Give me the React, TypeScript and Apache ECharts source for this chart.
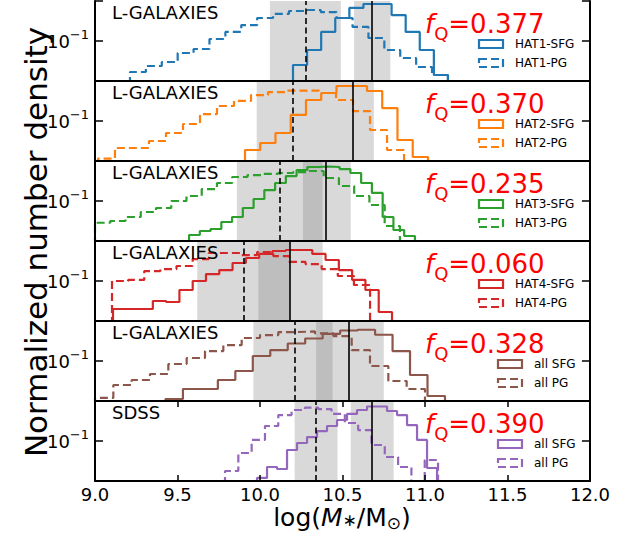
import React, { useEffect, useRef } from "react";
import * as echarts from "echarts";

// ---------- axis / tick data ----------
const X_MIN = 9.0;
const X_MAX = 12.0;
const X_INTERVAL = 0.5;
const X_TICK_LABELS = ["9.0", "9.5", "10.0", "10.5", "11.0", "11.5", "12.0"];
const Y_MIN = 0.0316228; // 10^-1.5
const Y_MAX = 0.316228; // 10^-0.5
const Y_TICK_VALUE = 0.1;
const Y_TICK_BASE = "10";
const Y_TICK_EXP = "\u22121";

// ---------- panel texts ----------
const PANEL_LABELS = ["L-GALAXIES", "L-GALAXIES", "L-GALAXIES", "L-GALAXIES", "L-GALAXIES", "SDSS"];
const F_Q = ["0.377", "0.370", "0.235", "0.060", "0.328", "0.390"];
const SFG_NAMES = ["HAT1-SFG", "HAT2-SFG", "HAT3-SFG", "HAT4-SFG", "all SFG", "all SFG"];
const PG_NAMES = ["HAT1-PG", "HAT2-PG", "HAT3-PG", "HAT4-PG", "all PG", "all PG"];
const COLORS = ["#1f77b4", "#ff7f0e", "#2ca02c", "#d62728", "#8c564b", "#9467bd"];

// ---------- histograms: [lo, hi] range of bins and normalized densities ----------
const HAT1_SFG_RANGE = [10.2, 11.139];
const HAT1_SFG = [0.0501, 0.0772, 0.13, 0.194, 0.259, 0.29, 0.29, 0.211, 0.13, 0.0772, 0.0376];
const HAT1_PG_RANGE = [9.212, 11.139];
const HAT1_PG = [0.041, 0.0487, 0.0546, 0.0708, 0.0794, 0.106, 0.13, 0.158, 0.194, 0.218, 0.237, 0.244, 0.23, 0.194, 0.15, 0.109, 0.0772, 0.0613, 0.0473, 0.0376];

const HAT2_SFG_RANGE = [9.909, 11.018];
const HAT2_SFG = [0.0434, 0.0531, 0.0708, 0.119, 0.183, 0.224, 0.274, 0.274, 0.237, 0.145, 0.0579, 0.0355];
const HAT2_PG_RANGE = [9.018, 10.873];
const HAT2_PG = [0.0338, 0.046, 0.046, 0.0562, 0.0708, 0.0917, 0.122, 0.154, 0.178, 0.211, 0.23, 0.24, 0.24, 0.224, 0.183, 0.133, 0.0772, 0.0434];

const HAT3_SFG_RANGE = [9.57, 10.939];
const HAT3_SFG = [0.0376, 0.0422, 0.0447, 0.0546, 0.0631, 0.0818, 0.106, 0.137, 0.168, 0.205, 0.244, 0.266, 0.27, 0.266, 0.251, 0.224, 0.168, 0.126, 0.0631, 0.0434, 0.0365];
const HAT3_PG_RANGE = [9.0, 10.848];
const HAT3_PG = [0.0535, 0.0562, 0.0631, 0.0729, 0.0818, 0.1, 0.1155, 0.141, 0.168, 0.1995, 0.211, 0.218, 0.224, 0.23, 0.237, 0.194, 0.154, 0.1155, 0.0891, 0.0487];

const HAT4_SFG_RANGE = [9.109, 10.8];
const HAT4_SFG = [0.0447, 0.0447, 0.0447, 0.0562, 0.0546, 0.0772, 0.1, 0.122, 0.137, 0.168, 0.194, 0.218, 0.237, 0.244, 0.244, 0.218, 0.183, 0.137, 0.103, 0.0772, 0.041];
const HAT4_PG_RANGE = [9.103, 10.667];
const HAT4_PG = [0.1, 0.103, 0.133, 0.141, 0.154, 0.188, 0.224, 0.224, 0.211, 0.23, 0.205, 0.173, 0.163, 0.141, 0.1155, 0.0891];

const ALL_SFG_RANGE = [9.427, 11.121];
const ALL_SFG = [0.0335, 0.0447, 0.0447, 0.0579, 0.075, 0.1155, 0.137, 0.1655, 0.191, 0.218, 0.2405, 0.246, 0.213, 0.133, 0.0668, 0.0365];
const ALL_PG_RANGE = [9.0, 11.0];
const ALL_PG = [0.0345, 0.0501, 0.0579, 0.0688, 0.0917, 0.109, 0.133, 0.158, 0.194, 0.211, 0.23, 0.234, 0.221, 0.205, 0.137, 0.0866, 0.0562, 0.0447];

const SDSS_SFG_RANGE = [9.982, 11.073];
const SDSS_SFG = [0.0345, 0.0473, 0.0447, 0.0772, 0.0944, 0.112, 0.133, 0.154, 0.183, 0.218, 0.244, 0.27, 0.27, 0.237, 0.211, 0.158, 0.103, 0.046];
const SDSS_PG_RANGE = [9.788, 11.079];
const SDSS_PG = [0.0422, 0.0708, 0.103, 0.154, 0.211, 0.244, 0.262, 0.251, 0.218, 0.168, 0.137, 0.0891, 0.0631, 0.0473, 0, 0.0579];

const SFG_RANGES = [HAT1_SFG_RANGE, HAT2_SFG_RANGE, HAT3_SFG_RANGE, HAT4_SFG_RANGE, ALL_SFG_RANGE, SDSS_SFG_RANGE];
const SFG_VALUES = [HAT1_SFG, HAT2_SFG, HAT3_SFG, HAT4_SFG, ALL_SFG, SDSS_SFG];
const PG_RANGES = [HAT1_PG_RANGE, HAT2_PG_RANGE, HAT3_PG_RANGE, HAT4_PG_RANGE, ALL_PG_RANGE, SDSS_PG_RANGE];
const PG_VALUES = [HAT1_PG, HAT2_PG, HAT3_PG, HAT4_PG, ALL_PG, SDSS_PG];

// ---------- medians (vertical lines) and percentile bands ----------
const PG_MEDIANS = [10.28, 10.2, 10.115, 9.9, 10.21, 10.34];
const SFG_MEDIANS = [10.68, 10.56, 10.4, 10.18, 10.54, 10.68];
const PG_BANDS = [[10.06, 10.49], [9.98, 10.43], [9.86, 10.38], [9.62, 10.18], [9.96, 10.44], [10.21, 10.47]];
const SFG_BANDS = [[10.57, 10.79], [10.43, 10.69], [10.26, 10.55], [9.99, 10.38], [10.34, 10.75], [10.55, 10.81]];

// ---------- layout ----------
const W = 631;
const H = 540;
const LEFT = 95;
const PLOT_W = 495;
const TOP0 = 1;
const PANEL_H = 80;
const FONT = "DejaVu Sans";
const FLOOR = 0.005;

function stepData(range: number[], vals: number[]) {
  const n = vals.length;
  const lo = range[0];
  const hi = range[1];
  const w = (hi - lo) / n;
  const pts: number[][] = [[lo, FLOOR]];
  vals.forEach((v, i) => pts.push([lo + i * w, v > 0 ? v : FLOOR]));
  const last = vals[n - 1] > 0 ? vals[n - 1] : FLOOR;
  pts.push([hi, last]);
  pts.push([hi, FLOOR]);
  return pts;
}

function buildOption() {
  const grid: any[] = [];
  const xAxis: any[] = [];
  const yAxis: any[] = [];
  const series: any[] = [];
  const elements: any[] = [];

  for (let i = 0; i < 6; i++) {
    const T = TOP0 + i * PANEL_H;
    const isBottom = i === 5;
    grid.push({ left: LEFT, top: T, width: PLOT_W, height: PANEL_H });
    const axisLine = { show: true, onZero: false, lineStyle: { color: "#000", width: 2 } };
    xAxis.push({
      gridIndex: i, type: "value", position: "bottom", min: X_MIN, max: X_MAX, interval: X_INTERVAL, z: 10,
      axisLine,
      axisTick: { show: isBottom, inside: true, length: 6, lineStyle: { color: "#000", width: 1.5 } },
      axisLabel: {
        show: isBottom, fontSize: 18, lineHeight: 18, color: "#000", fontFamily: FONT, margin: 4,
        formatter: (v: number) => X_TICK_LABELS[Math.round((v - X_MIN) / X_INTERVAL)] ?? "",
      },
      splitLine: { show: false },
    });
    xAxis.push({
      gridIndex: i, type: "value", position: "top", min: X_MIN, max: X_MAX, interval: X_INTERVAL, z: 10,
      axisLine: { ...axisLine, show: i !== 0 },
      axisTick: { show: isBottom, inside: true, length: 6, lineStyle: { color: "#000", width: 1.5 } },
      axisLabel: { show: false },
      splitLine: { show: false },
    });
    const isTick = (v: number) => Math.abs(Math.log10(v) - Math.log10(Y_TICK_VALUE)) < 1e-6;
    yAxis.push({
      gridIndex: i, type: "log", logBase: 10, position: "left", min: Y_MIN, max: Y_MAX, z: 10,
      axisLine,
      axisTick: { show: true, inside: true, length: 8, lineStyle: { color: "#000", width: 1.5 } },
      minorTick: { show: false },
      splitLine: { show: false },
      axisLabel: {
        show: true, margin: 6, color: "#000", fontFamily: FONT,
        formatter: (v: number) => (isTick(v) ? `{b|${Y_TICK_BASE}}{s|${Y_TICK_EXP}}` : ""),
        rich: {
          b: { fontSize: 18, height: 22, verticalAlign: "top", color: "#000", fontFamily: FONT },
          s: { fontSize: 13, height: 9, verticalAlign: "top", color: "#000", fontFamily: FONT },
        },
      },
    });
    yAxis.push({
      gridIndex: i, type: "log", logBase: 10, position: "right", min: Y_MIN, max: Y_MAX, z: 10,
      axisLine,
      axisTick: { show: true, inside: true, length: 8, lineStyle: { color: "#000", width: 1.5 } },
      minorTick: { show: false },
      splitLine: { show: false },
      axisLabel: { show: false },
    });

    const color = COLORS[i];
    series.push({
      type: "line", name: SFG_NAMES[i] + " " + i, xAxisIndex: 2 * i, yAxisIndex: 2 * i,
      data: stepData(SFG_RANGES[i], SFG_VALUES[i]), step: "end", symbol: "none", showSymbol: false,
      lineStyle: { color, width: 2.2 }, z: 3, silent: true,
      markArea: {
        silent: true,
        itemStyle: { color: "rgba(128,128,128,0.3)" },
        data: [
          [{ xAxis: PG_BANDS[i][0] }, { xAxis: PG_BANDS[i][1] }],
          [{ xAxis: SFG_BANDS[i][0] }, { xAxis: SFG_BANDS[i][1] }],
        ],
      },
      markLine: {
        silent: true, symbol: ["none", "none"], label: { show: false },
        lineStyle: { color: "#000", width: 1.6 },
        data: [
          { xAxis: PG_MEDIANS[i], lineStyle: { type: [6, 3.5], color: "#000", width: 1.6 } },
          { xAxis: SFG_MEDIANS[i], lineStyle: { type: "solid", color: "#000", width: 1.6 } },
        ],
      },
    });
    series.push({
      type: "line", name: PG_NAMES[i] + " " + i, xAxisIndex: 2 * i, yAxisIndex: 2 * i,
      data: stepData(PG_RANGES[i], PG_VALUES[i]), step: "end", symbol: "none", showSymbol: false,
      lineStyle: { color, width: 2.2, type: [8, 4] }, z: 3, silent: true,
    });

    // panel label
    elements.push({
      type: "text", x: 112, y: T + 11.5, z: 20,
      style: { text: PANEL_LABELS[i], fontSize: 18, fontFamily: FONT, fill: "#000", align: "left", verticalAlign: "middle" },
    });
    // f_Q
    elements.push({
      type: "text", x: 425, y: T + 7.5, z: 20,
      style: {
        text: `{f|f}{q|Q}{n|=${F_Q[i]}}`, fill: "#ff0000", fontFamily: FONT, align: "left", verticalAlign: "top",
        rich: {
          f: { fontSize: 26, fontStyle: "italic", fill: "#ff0000", fontFamily: FONT, height: 30, verticalAlign: "top" },
          q: { fontSize: 18, fill: "#ff0000", fontFamily: FONT, height: 49, verticalAlign: "top" },
          n: { fontSize: 26, fill: "#ff0000", fontFamily: FONT, height: 30, verticalAlign: "top" },
        },
      },
    });
    // legend
    const textX = i >= 4 ? 534 : 515;
    const rectX = textX - 36;
    elements.push({
      type: "rect", z: 20, shape: { x: rectX, y: T + 39, width: 24, height: 8 },
      style: { fill: "none", stroke: color, lineWidth: 2.2 },
    });
    elements.push({
      type: "rect", z: 20, shape: { x: rectX, y: T + 58, width: 24, height: 8 },
      style: { fill: "none", stroke: color, lineWidth: 2.2, lineDash: [8, 4] },
    });
    elements.push({
      type: "text", x: textX, y: T + 43, z: 20,
      style: { text: SFG_NAMES[i], fontSize: 12, fontFamily: FONT, fill: "#000", align: "left", verticalAlign: "middle" },
    });
    elements.push({
      type: "text", x: textX, y: T + 62, z: 20,
      style: { text: PG_NAMES[i], fontSize: 12, fontFamily: FONT, fill: "#000", align: "left", verticalAlign: "middle" },
    });
  }

  // axis titles
  elements.push({
    type: "text", x: 36, y: 242, rotation: Math.PI / 2, z: 20,
    style: { text: "Normalized number density", fontSize: 31, fontFamily: FONT, fill: "#000", align: "center", verticalAlign: "middle" },
  });
  elements.push({
    type: "text", x: 342, y: 505, z: 20,
    style: {
      text: "{n|log(}{i|M}{a|\u2217}{n|/M}{o|\u2299}{n|)}", fill: "#000", fontFamily: FONT, align: "center", verticalAlign: "top",
      rich: {
        n: { fontSize: 25, fill: "#000", fontFamily: FONT, height: 24, verticalAlign: "top" },
        i: { fontSize: 25, fontStyle: "italic", fill: "#000", fontFamily: FONT, height: 24, verticalAlign: "top" },
        a: { fontSize: 17, fill: "#000", fontFamily: FONT, height: 30, verticalAlign: "top" },
        o: { fontSize: 17, fill: "#000", fontFamily: FONT, height: 36, verticalAlign: "top" },
      },
    },
  });

  return {
    animation: false,
    backgroundColor: "#fff",
    textStyle: { fontFamily: FONT },
    grid, xAxis, yAxis, series,
    graphic: { elements },
  };
}

export default function App() {
  const ref = useRef<HTMLDivElement>(null);
  useEffect(() => {
    const chart = echarts.init(ref.current!, null, { renderer: "svg" });
    chart.setOption(buildOption() as any);
    return () => chart.dispose();
  }, []);
  return <div ref={ref} style={{ position: "fixed", left: 0, top: 0, width: W, height: H }} />;
}
